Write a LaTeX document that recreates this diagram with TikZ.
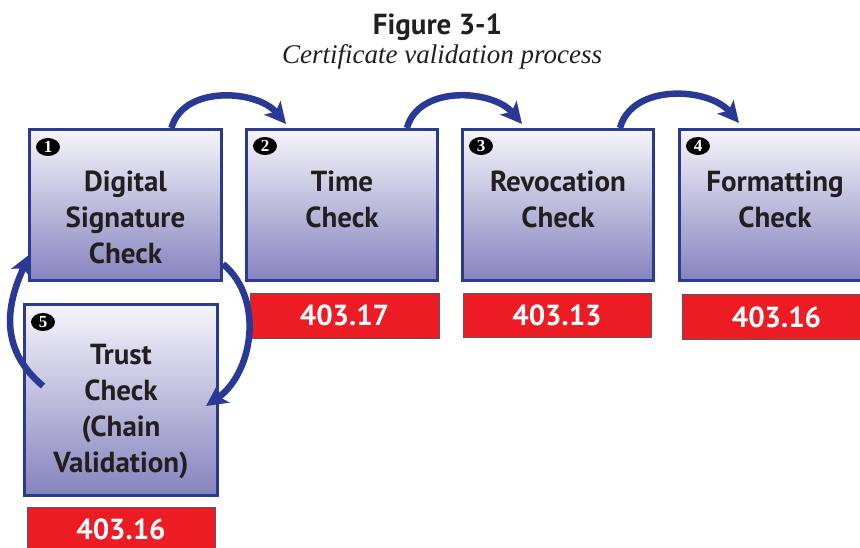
\documentclass[tikz,border=0pt]{standalone}
\usepackage{fontspec}
\setmainfont{PT Sans}
\newfontfamily\capserif{Liberation Serif}
\usetikzlibrary{arrows.meta,calc,shapes.geometric}

\definecolor{stepblue}{RGB}{44,58,150}
\definecolor{arrowblue}{RGB}{42,56,150}
\definecolor{shadetop}{RGB}{246,245,251}
\definecolor{shadebottom}{RGB}{133,131,190}
\definecolor{codered}{RGB}{237,28,36}
\definecolor{inkdark}{RGB}{35,31,32}

\tikzset{
  stepbox/.style={draw=stepblue, line width=3pt, top color=shadetop,
    bottom color=shadebottom, minimum width=192pt, minimum height=151pt,
    inner sep=0pt},
  steptext/.style={anchor=north, align=center, inner sep=0pt, text=inkdark,
    font=\bfseries\fontsize{29}{36}\selectfont},
  stepnum/.style={ellipse, fill=black, minimum width=24pt, minimum height=18pt,
    inner sep=0pt, text=white, font=\capserif\bfseries\fontsize{17}{17}\selectfont},
  codebox/.style={fill=codered, draw=black!65, line width=0.8pt,
    minimum width=189pt, minimum height=45pt, inner sep=0pt, text=white,
    font=\bfseries\fontsize{29}{29}\selectfont},
  flow/.style={draw=arrowblue, line width=6.5pt,
    -{Stealth[length=21pt,width=21pt,inset=5pt]}}
}

\begin{document}
\begin{tikzpicture}[x=1pt,y=1pt]
\useasboundingbox (0,0) rectangle (860,547);

% heading
\node[anchor=base, inner sep=0pt, text=inkdark,
      font=\bfseries\fontsize{29}{29}\selectfont] (title) at (437.5,512) {Figure 3-1};
\node[anchor=base, inner sep=0pt, text=inkdark,
      font=\capserif\itshape\fontsize{27}{27}\selectfont] (subtitle) at (442,483)
      {Certificate validation process};

% process steps
\node[stepbox] (b1) at (125.5,342) {};
\node[stepbox, minimum width=191pt] (b2) at (342,342) {};
\node[stepbox, minimum width=191pt] (b3) at (558,342) {};
\node[stepbox, minimum width=191pt] (b4) at (775,342) {};
\node[stepbox, minimum width=193pt, minimum height=191pt] (b5) at (121,147) {};

\node[steptext] (t1) at ($(b1.north)+(0,-43)$) {Digital\\Signature\\Check};
\node[steptext] (t2) at ($(b2.north)+(0,-43)$) {Time\\Check};
\node[steptext] (t3) at ($(b3.north)+(0,-43)$) {Revocation\\Check};
\node[steptext] (t4) at ($(b4.north)+(0,-43)$) {Formatting\\Check};
\node[steptext] (t5) at ($(b5.north)+(0,-41)$) {Trust\\Check\\(Chain\\Validation)};

\node[stepnum] (n1) at ($(b1.north west)+(20,-19)$) {1};
\node[stepnum] (n2) at ($(b2.north west)+(20,-18)$) {2};
\node[stepnum] (n3) at ($(b3.north west)+(20,-18)$) {3};
\node[stepnum] (n4) at ($(b4.north west)+(20,-18)$) {4};
\node[stepnum] (n5) at ($(b5.north west)+(20,-19)$) {5};

% status codes
\node[codebox] (r2) at (344.5,231.5) {403.17};
\node[codebox, minimum width=188pt, minimum height=44pt] (r3) at (557,232) {403.13};
\node[codebox] (r4) at (776.5,230) {403.16};
\node[codebox, minimum width=188pt] (r5) at (121,17.5) {403.16};

% flow between the steps
\draw[flow] ([xshift=46pt]b1.north) to[out=75,in=130]
  ([xshift=41pt,yshift=4pt]b2.north west);
\draw[flow] ([xshift=65pt]b2.north) to[out=75,in=130]
  ([xshift=61pt,yshift=4pt]b3.north west);
\draw[flow] ([xshift=62pt]b3.north) to[out=75,in=130]
  ([xshift=61pt,yshift=5pt]b4.north west);

% loop between signature check and trust check
\draw[flow] ($(b5.north west)+(20,-83)$) to[out=140,in=245,looseness=1.1]
  ([xshift=2pt,yshift=28pt]b1.south west);
\draw[flow] ([yshift=18pt]b1.south east) to[out=-40,in=35]
  ([xshift=-13pt,yshift=-103pt]b5.north east);
\end{tikzpicture}
\end{document}
